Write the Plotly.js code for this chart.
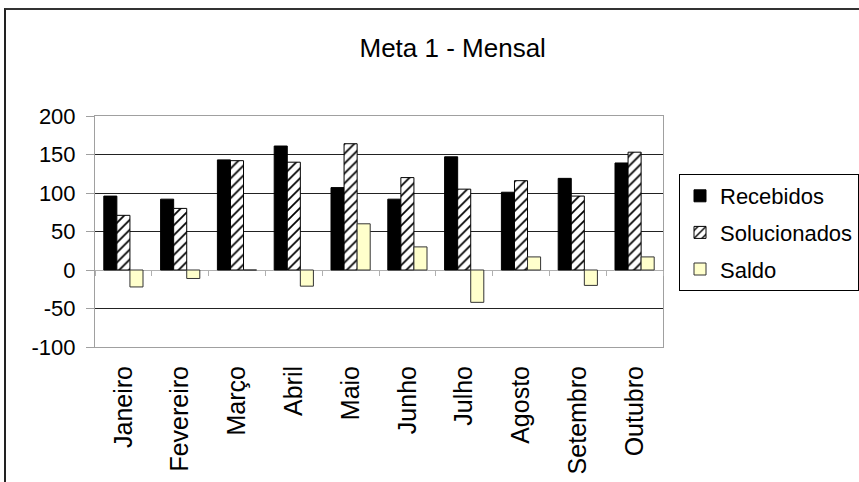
<!DOCTYPE html>
<html>
<head>
<meta charset="utf-8">
<script src="https://cdn.plot.ly/plotly-3.0.1.min.js"></script>
<style>
  html, body { margin: 0; padding: 0; background: #fff; }
  #wrap { position: relative; width: 859px; height: 482px; overflow: hidden; }
  #chart { width: 859px; height: 482px; }
  #frame { position: absolute; left: 4px; top: 8px; width: 900px; height: 600px;
           border-left: 2px solid #222; border-top: 2px solid #333; pointer-events: none; }
</style>
</head>
<body>
<div id="wrap">
  <div id="chart"></div>
  <div id="frame"></div>
</div>
<script>
const months = ["Janeiro", "Fevereiro", "Março", "Abril", "Maio", "Junho", "Julho", "Agosto", "Setembro", "Outubro"];
const recebidos = [96, 92, 143, 161, 107, 92, 147, 101, 119, 139];
const solucionados = [71, 80, 142, 140, 164, 120, 105, 116, 96, 153];
const saldo = [-22, -11, 0, -21, 60, 30, -42, 17, -20, 17];
const yTicks = [-100, -50, 0, 50, 100, 150, 200];

const FONT = "Liberation Sans, Arial, sans-serif";

const traces = [
  {
    type: "bar", name: "Recebidos", x: months, y: recebidos, legendgroup: "a",
    marker: { color: "#000000", line: { color: "#000000", width: 1 } },
    hoverinfo: "skip"
  },
  {
    type: "bar", name: "Solucionados", x: months, y: solucionados, legendgroup: "b",
    marker: {
      color: "#ffffff",
      line: { color: "#000000", width: 1 },
      pattern: { shape: "/", fgcolor: "#000000", bgcolor: "#ffffff", size: 7, solidity: 0.25 }
    },
    hoverinfo: "skip"
  },
  {
    type: "bar", name: "Saldo", x: months, y: saldo, legendgroup: "c",
    marker: { color: "#ffffcc", line: { color: "#333333", width: 1 } },
    hoverinfo: "skip"
  },
  {
    type: "scatter", mode: "markers", x: months, y: saldo, xaxis: "x2", yaxis: "y",
    marker: { opacity: 0, size: 1 }, showlegend: false, hoverinfo: "skip"
  }
];

const yMin = yTicks[0], yMax = yTicks[yTicks.length - 1];

const layout = {
  width: 859, height: 482,
  margin: { l: 95, r: 196, t: 116, b: 135, autoexpand: false },
  paper_bgcolor: "#ffffff", plot_bgcolor: "#ffffff",
  font: { family: FONT, size: 21, color: "#000000" },
  title: {
    text: "Meta 1 - Mensal",
    font: { family: FONT, size: 26, color: "#000000" },
    x: 0.527, xref: "container", xanchor: "center",
    y: 1 - 48 / 482, yref: "container", yanchor: "middle"
  },
  barmode: "group", bargap: 0.31, bargroupgap: 0,
  xaxis: {
    type: "category", categoryorder: "array", categoryarray: months,
    range: [-0.5, months.length - 0.5],
    tickangle: -90, ticks: "", showgrid: false,
    showline: true, linecolor: "#a0a0a0", linewidth: 1, mirror: true,
    zeroline: false, ticklabelstandoff: 8,
    tickfont: { family: FONT, size: 25, color: "#000000" }
  },
  xaxis2: {
    type: "category", categoryorder: "array", categoryarray: months,
    range: [-0.5, months.length - 0.5],
    overlaying: "x", anchor: "free",
    position: (0 - yMin) / (yMax - yMin),
    side: "bottom", showticklabels: false, showgrid: false, showline: false, zeroline: false,
    ticks: "outside", tickson: "boundaries", ticklen: 5, tickcolor: "#b0b0b0", tickwidth: 1
  },
  yaxis: {
    range: [yMin, yMax], tickvals: yTicks, ticktext: yTicks.map(String),
    showgrid: true, gridcolor: "#222222", gridwidth: 1,
    zeroline: true, zerolinecolor: "#b0b0b0", zerolinewidth: 1,
    showline: true, linecolor: "#a0a0a0", linewidth: 1, mirror: true,
    ticks: "outside", ticklen: 8, tickcolor: "#a0a0a0", tickwidth: 1,
    ticklabelstandoff: 6,
    tickfont: { family: FONT, size: 22, color: "#000000" }
  },
  legend: {
    x: (679 - 95) / 568, xanchor: "left",
    y: (347 - 174) / 231, yanchor: "top",
    bordercolor: "#000000", borderwidth: 1, bgcolor: "#ffffff",
    font: { family: FONT, size: 22, color: "#000000" },
    traceorder: "grouped", tracegroupgap: 5
  },
  showlegend: true
};

Plotly.newPlot("chart", traces, layout, { staticPlot: true, displayModeBar: false });
</script>
</body>
</html>
